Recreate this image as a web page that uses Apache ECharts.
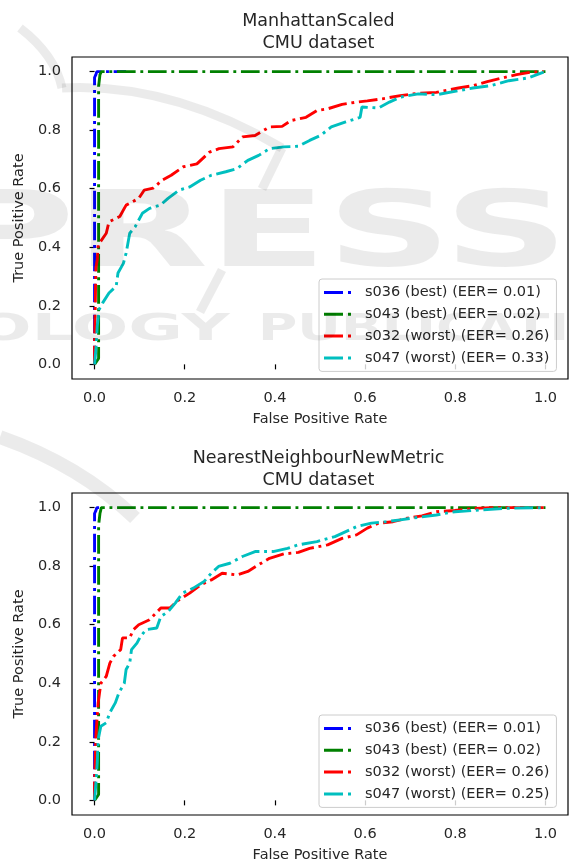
<!DOCTYPE html>
<html>
<head>
<meta charset="utf-8">
<script src="https://cdn.jsdelivr.net/npm/echarts@6/dist/echarts.min.js"></script>
<style>
  html, body { margin: 0; padding: 0; background: #fff; }
  #container { width: 569px; height: 864px; }
</style>
</head>
<body>
<div id="container"></div>
<script>
var ticks = [0, 0.2, 0.4, 0.6, 0.8, 1.0];

// ---- top: ManhattanScaled ----
var topNames = ['s036 (best) (EER= 0.01)', 's043 (best) (EER= 0.02)', 's032 (worst) (EER= 0.26)', 's047 (worst) (EER= 0.33)'];
var topBlueX = [0, 0, 0.003, 0.005, 0.07];
var topBlueY = [0, 0.98, 0.99, 1.0, 1.0];
var topGreenX = [0, 0.009, 0.009, 0.012, 0.015, 1.0];
var topGreenY = [0, 0.02, 0.95, 0.99, 1.0, 1.0];
var topRedX = [0, 0, 0.003, 0.006, 0.008, 0.026, 0.032, 0.056, 0.07, 0.098, 0.11, 0.13, 0.15, 0.17, 0.197, 0.227, 0.255, 0.276, 0.307, 0.328, 0.356, 0.388, 0.416, 0.436, 0.469, 0.493, 0.517, 0.549, 0.581, 0.605, 0.638, 0.678, 0.718, 0.758, 0.807, 0.839, 0.871, 0.903, 0.936, 0.968, 0.996];
var topRedY = [0, 0.06, 0.33, 0.357, 0.408, 0.448, 0.487, 0.505, 0.544, 0.567, 0.595, 0.602, 0.629, 0.646, 0.675, 0.685, 0.725, 0.737, 0.743, 0.777, 0.782, 0.811, 0.813, 0.833, 0.844, 0.867, 0.873, 0.888, 0.896, 0.90, 0.907, 0.918, 0.926, 0.929, 0.944, 0.952, 0.966, 0.978, 0.99, 0.998, 1.0];
var topCyanX = [0, 0.003, 0.006, 0.01, 0.018, 0.032, 0.048, 0.052, 0.064, 0.07, 0.078, 0.09, 0.106, 0.122, 0.146, 0.163, 0.187, 0.211, 0.235, 0.259, 0.291, 0.316, 0.34, 0.364, 0.388, 0.42, 0.452, 0.477, 0.501, 0.525, 0.557, 0.589, 0.593, 0.63, 0.654, 0.678, 0.718, 0.758, 0.807, 0.839, 0.879, 0.919, 0.96, 0.996];
var topCyanY = [0, 0.05, 0.13, 0.187, 0.21, 0.244, 0.267, 0.312, 0.345, 0.38, 0.448, 0.47, 0.516, 0.533, 0.544, 0.567, 0.595, 0.606, 0.629, 0.646, 0.658, 0.669, 0.697, 0.714, 0.737, 0.743, 0.745, 0.765, 0.782, 0.811, 0.828, 0.844, 0.879, 0.876, 0.896, 0.913, 0.924, 0.921, 0.935, 0.944, 0.952, 0.969, 0.978, 0.998];

// ---- bottom: NearestNeighbourNewMetric ----
var botNames = ['s036 (best) (EER= 0.01)', 's043 (best) (EER= 0.02)', 's032 (worst) (EER= 0.26)', 's047 (worst) (EER= 0.25)'];
var botBlueX = [0, 0, 0.003, 0.005, 0.01];
var botBlueY = [0, 0.98, 0.99, 1.0, 1.0];
var botGreenX = [0, 0.009, 0.009, 0.012, 0.015, 1.0];
var botGreenY = [0, 0.02, 0.94, 0.98, 1.0, 1.0];
var botRedX = [0, 0, 0.003, 0.008, 0.014, 0.026, 0.034, 0.042, 0.058, 0.062, 0.078, 0.086, 0.098, 0.122, 0.147, 0.167, 0.187, 0.211, 0.235, 0.259, 0.283, 0.316, 0.34, 0.364, 0.388, 0.42, 0.452, 0.477, 0.517, 0.549, 0.581, 0.605, 0.63, 0.662, 0.694, 0.726, 0.758, 0.799, 0.839, 0.879, 0.996];
var botRedY = [0, 0.06, 0.22, 0.333, 0.40, 0.424, 0.469, 0.492, 0.515, 0.555, 0.555, 0.583, 0.60, 0.617, 0.657, 0.657, 0.685, 0.708, 0.736, 0.753, 0.776, 0.77, 0.782, 0.805, 0.827, 0.842, 0.847, 0.861, 0.873, 0.895, 0.907, 0.93, 0.947, 0.952, 0.964, 0.972, 0.986, 0.99, 0.997, 1.0, 1.0];
var botCyanX = [0, 0.003, 0.006, 0.008, 0.014, 0.026, 0.034, 0.046, 0.054, 0.066, 0.07, 0.078, 0.082, 0.094, 0.102, 0.114, 0.138, 0.147, 0.163, 0.179, 0.195, 0.219, 0.243, 0.259, 0.275, 0.3, 0.328, 0.356, 0.396, 0.428, 0.452, 0.493, 0.533, 0.581, 0.614, 0.646, 0.678, 0.718, 0.758, 0.799, 0.855, 0.919, 0.996];
var botCyanY = [0, 0.06, 0.128, 0.208, 0.253, 0.265, 0.30, 0.333, 0.367, 0.40, 0.447, 0.469, 0.515, 0.537, 0.56, 0.583, 0.589, 0.628, 0.645, 0.674, 0.708, 0.725, 0.748, 0.776, 0.799, 0.81, 0.833, 0.85, 0.85, 0.861, 0.873, 0.884, 0.901, 0.935, 0.947, 0.952, 0.958, 0.967, 0.975, 0.986, 0.992, 0.998, 1.0];

var colors = ['#0000ff', '#008000', '#ff0000', '#00bfbf'];
var textColor = '#262626';
var markColor = 'rgba(0,0,0,0.08)';   // publisher watermark, laid over everything
var legendIcon = 'path://M0,0H19V3H0Z M24,0H27V3H24Z';

var dom = document.getElementById("container");
var myChart = echarts.init(dom);

function zip(xs, ys) {
    var out = [];
    for (var i = 0; i < xs.length; i++) out.push([xs[i], ys[i]]);
    return out;
}

function makeAxes(idx, isX, name) {
    return {
        type: 'value',
        gridIndex: idx,
        min: -0.05,
        max: 1.05,
        name: name,
        nameLocation: 'middle',
        nameGap: isX ? 33 : 37,
        nameTextStyle: { color: textColor, fontSize: 14.5, fontFamily: 'DejaVu Sans' },
        axisLine: { show: false },
        splitLine: { show: false },
        axisTick: { show: true, inside: false, length: 5, customValues: ticks, lineStyle: { color: '#000', width: 1.2 } },
        axisLabel: {
            color: textColor, fontSize: 14.5, fontFamily: 'DejaVu Sans',
            margin: isX ? 12 : 11,
            customValues: ticks,
            formatter: function (v) { return v.toFixed(1); }
        }
    };
}

function makeSeries(names, gi, sets) {
    return sets.map(function (d, i) {
        return {
            name: names[i],
            type: 'line',
            xAxisIndex: gi,
            yAxisIndex: gi,
            data: zip(d[0], d[1]),
            symbol: 'none',
            color: colors[i],
            lineStyle: { color: colors[i], width: 2.9, type: [18.7, 4.7, 2.9, 4.7], cap: 'butt' },
            animation: false
        };
    });
}

function makeLegend(names, top) {
    return {
        orient: 'vertical',
        left: 319,
        top: top,
        padding: [5.5, 7, 5.5, 5],
        itemGap: 5.8,
        itemWidth: 27,
        itemHeight: 16,
        icon: legendIcon,
        itemStyle: { borderWidth: 0 },
        data: names,
        selectedMode: false,
        backgroundColor: 'rgba(255,255,255,0.8)',
        borderColor: '#cccccc',
        borderWidth: 1,
        borderRadius: 3,
        textStyle: { color: textColor, fontSize: 14.5, fontFamily: 'DejaVu Sans', lineHeight: 16, padding: [0, 0, 0, 9] }
    };
}

var titleStyle = { color: textColor, fontSize: 17.5, fontWeight: 'normal', fontFamily: 'DejaVu Sans', lineHeight: 21.7 };
var bandStyle = function (w) { return { fill: null, stroke: markColor, lineWidth: w }; };
var markText = function (t, px) { return { text: t, font: 'bold ' + px + 'px "DejaVu Sans"', fill: markColor, align: 'left', verticalAlign: 'top' }; };

option = {
    backgroundColor: '#fff',
    animation: false,
    title: [
        { text: 'ManhattanScaled\nCMU dataset', left: 313.5, top: 6, textAlign: 'center', textStyle: titleStyle },
        { text: 'NearestNeighbourNewMetric\nCMU dataset', left: 313.5, top: 443, textAlign: 'center', textStyle: titleStyle }
    ],
    graphic: [
        { type: 'bezierCurve', z: 100, silent: true, shape: { x1: 20, y1: 28, cpx1: 55, cpy1: 55, x2: 62, y2: 88 }, style: bandStyle(9) },
        { type: 'bezierCurve', z: 100, silent: true, shape: { x1: 62, y1: 88, cpx1: 170, cpy1: 82, x2: 282, y2: 148 }, style: bandStyle(9) },
        { type: 'line', z: 100, silent: true, shape: { x1: 282, y1: 148, x2: 262, y2: 189 }, style: bandStyle(9) },
        { type: 'line', z: 100, silent: true, shape: { x1: 222, y1: 270, x2: 200, y2: 312 }, style: bandStyle(9) },
        { type: 'bezierCurve', z: 100, silent: true, shape: { x1: 0, y1: 437, cpx1: 80, cpy1: 465, x2: 135, y2: 518 }, style: bandStyle(14) },
        { type: 'text', x: -52, y: 186, z: 100, scaleX: 1.65, silent: true, style: markText('PRESS', 105) },
        { type: 'text', x: -25, y: 312, z: 100, scaleX: 1.8, silent: true, style: markText('OLOGY', 37) },
        { type: 'text', x: 258, y: 312, z: 100, scaleX: 1.45, silent: true, style: markText('PUBLICATIONS', 37) }
    ],
    grid: [
        { left: 72, top: 57, width: 496, height: 322, show: true, borderColor: '#000', borderWidth: 1.2, backgroundColor: 'transparent' },
        { left: 72, top: 493, width: 496, height: 323, show: true, borderColor: '#000', borderWidth: 1.2, backgroundColor: 'transparent' }
    ],
    xAxis: [makeAxes(0, true, 'False Positive Rate'), makeAxes(1, true, 'False Positive Rate')],
    yAxis: [makeAxes(0, false, 'True Positive Rate'), makeAxes(1, false, 'True Positive Rate')],
    legend: [makeLegend(topNames, 279), makeLegend(botNames, 715)],
    series: makeSeries(topNames, 0, [[topBlueX, topBlueY], [topGreenX, topGreenY], [topRedX, topRedY], [topCyanX, topCyanY]])
        .concat(makeSeries(botNames, 1, [[botBlueX, botBlueY], [botGreenX, botGreenY], [botRedX, botRedY], [botCyanX, botCyanY]]))
};

if (option && typeof option === "object") {
    myChart.setOption(option, true);
}
</script>
</body>
</html>
